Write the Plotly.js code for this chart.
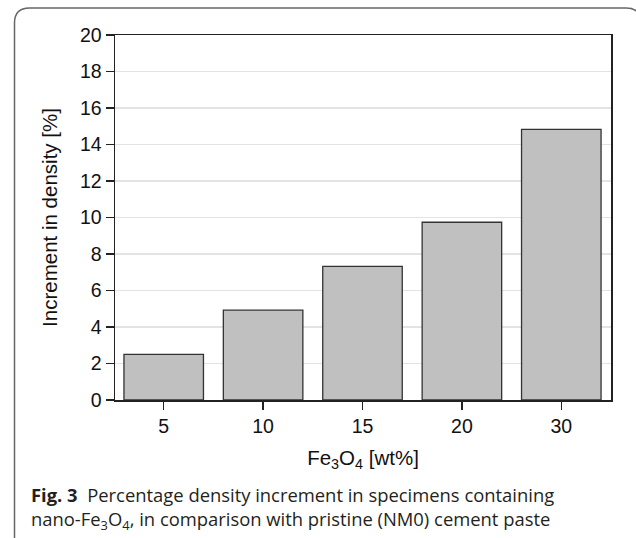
<!DOCTYPE html>
<html>
<head>
<meta charset="utf-8">
<script src="https://cdn.plot.ly/plotly-3.0.1.min.js"></script>
<style>html,body{margin:0;padding:0;background:#fff;}#chart{width:636px;height:538px;}</style>
</head>
<body>
<div id="chart"></div>
<script>
const categories = ['5', '10', '15', '20', '30'];
const densityIncrement = [2.5, 4.92, 7.32, 9.74, 14.83];
const yTickValues = [0, 2, 4, 6, 8, 10, 12, 14, 16, 18, 20];
const xTitleText = 'Fe<sub>3</sub>O<sub>4</sub> [wt%]';
const yTitleText = 'Increment in density [%]';
const captionLine1 = '<b>Fig. 3</b>  Percentage density increment in specimens containing';
const captionLine2 = 'nano-Fe<sub>3</sub>O<sub>4</sub>, in comparison with pristine (NM0) cement paste';

const W = 636, H = 538;
const M = {l: 115, r: 25, t: 34.5, b: 138};
const pw = W - M.l - M.r, ph = H - M.t - M.b;
const px = x => (x - M.l) / pw;
const py = y => (H - M.b - y) / ph;

// border (rounded corners), in paper coords from pixel positions
const L = 14.5, T = 7.5, R = 641, B = 546, rad = 15;
const borderPath =
  `M ${px(L)},${py(B)} L ${px(L)},${py(T + rad)} Q ${px(L)},${py(T)} ${px(L + rad)},${py(T)} ` +
  `L ${px(R - rad)},${py(T)} Q ${px(R)},${py(T)} ${px(R)},${py(T + rad)} L ${px(R)},${py(B)}`;

const trace = {
  type: 'bar',
  x: categories,
  y: densityIncrement,
  marker: {color: '#c0c0c0', line: {color: '#333333', width: 1.3}},
  hoverinfo: 'x+y'
};

const tickFont = {family: 'Liberation Sans, Arial, sans-serif', size: 19.5, color: '#111'};
const capFont = {family: 'Open Sans, Noto Sans, sans-serif', size: 18.4, color: '#231f20'};

const layout = {
  width: W, height: H,
  margin: M,
  paper_bgcolor: '#ffffff',
  plot_bgcolor: '#ffffff',
  showlegend: false,
  bargap: 0.2,
  xaxis: {
    type: 'category',
    categoryorder: 'array',
    categoryarray: categories,
    range: [-0.49, 4.5],
    showline: true, linecolor: '#222', linewidth: 1.5, mirror: true,
    ticks: 'outside', ticklen: 8, tickwidth: 1.3, tickcolor: '#222',
    showgrid: false, zeroline: false,
    tickfont: tickFont,
    title: {text: xTitleText, font: {family: 'Liberation Sans, Arial, sans-serif', size: 20.5, color: '#111'}, standoff: 14}
  },
  yaxis: {
    range: [0, 20],
    tickvals: yTickValues,
    ticktext: yTickValues.map(String),
    showline: true, linecolor: '#222', linewidth: 1.5, mirror: true,
    ticks: 'outside', ticklen: 8, tickwidth: 1.3, tickcolor: '#222',
    showgrid: true, gridcolor: '#e3e3e3', gridwidth: 1.2,
    zeroline: false,
    tickfont: tickFont,
    title: {text: yTitleText, font: {family: 'Liberation Sans, Arial, sans-serif', size: 20.5, color: '#111'}, standoff: 16}
  },
  shapes: [{
    type: 'path', xref: 'paper', yref: 'paper', path: borderPath,
    line: {color: '#666666', width: 1.5}, layer: 'above'
  }],
  annotations: [{
    xref: 'paper', yref: 'paper',
    x: px(29), y: py(495),
    xanchor: 'left', yanchor: 'middle', align: 'left',
    showarrow: false, text: captionLine1, font: capFont
  }, {
    xref: 'paper', yref: 'paper',
    x: px(29), y: py(520),
    xanchor: 'left', yanchor: 'middle', align: 'left',
    showarrow: false, text: captionLine2, font: capFont
  }]
};

Plotly.newPlot('chart', [trace], layout, {displayModeBar: false, staticPlot: true});
</script>
</body>
</html>
